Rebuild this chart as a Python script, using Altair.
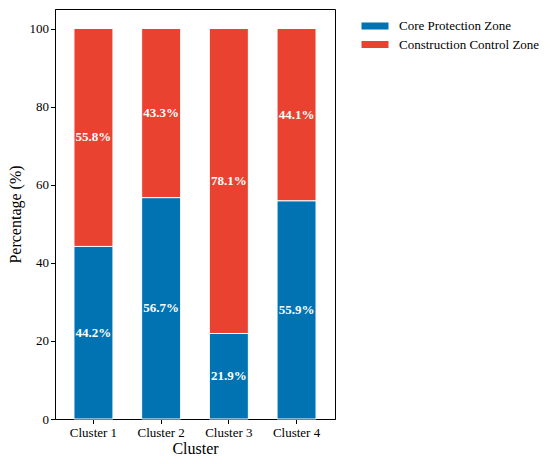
import altair as alt
import pandas as pd

clusters = ["Cluster 1", "Cluster 2", "Cluster 3", "Cluster 4"]
core = [44.2, 56.7, 21.9, 55.9]
control = [55.8, 43.3, 78.1, 44.1]
series = ["Core Protection Zone", "Construction Control Zone"]
colors = ["#0173B2", "#EA4231"]
y_ticks = [0, 20, 40, 60, 80, 100]

rows = []
for i, c in enumerate(clusters):
    rows.append({"cluster": c, "zone": series[0], "value": core[i], "ord": 0})
    rows.append({"cluster": c, "zone": series[1], "value": control[i], "ord": 1})
df = pd.DataFrame(rows)

FONT = "Liberation Serif"

base = alt.Chart(df).transform_stack(
    stack="value",
    as_=["y0", "y1"],
    groupby=["cluster"],
    sort=[alt.SortField("ord", order="ascending")],
).transform_calculate(
    mid="(datum.y0 + datum.y1) / 2",
    label="format(datum.value, '.1f') + '%'",
)

x_enc = alt.X(
    "cluster:N",
    sort=clusters,
    title="Cluster",
    scale=alt.Scale(paddingInner=0.424, paddingOuter=0.28),
    axis=alt.Axis(
        labelAngle=0,
        labelFont=FONT,
        labelFontSize=13,
        labelColor="black",
        labelPadding=3,
        tickSize=4.5,
        tickColor="black",
        domainColor="black",
        titleFont=FONT,
        titleFontSize=16,
        titleFontWeight="normal",
        titleColor="black",
        titlePadding=1,
    ),
)

y_scale = alt.Scale(domain=[0, 105], nice=False)

bars = base.mark_bar(stroke="white", strokeWidth=1).encode(
    x=x_enc,
    y=alt.Y(
        "y1:Q",
        scale=y_scale,
        title="Percentage (%)",
        axis=alt.Axis(
            values=y_ticks,
            grid=False,
            labelFont=FONT,
            labelFontSize=13,
            labelColor="black",
            labelPadding=2,
            tickSize=4.5,
            tickColor="black",
            domainColor="black",
            titleFont=FONT,
            titleFontSize=16,
            titleFontWeight="normal",
            titleColor="black",
            titlePadding=6,
        ),
    ),
    y2="y0:Q",
    color=alt.Color(
        "zone:N",
        scale=alt.Scale(domain=series, range=colors),
        sort=series,
        legend=alt.Legend(
            title=None,
            orient="none",
            legendX=313,
            legendY=10,
            padding=0,
            symbolType="M-2,-0.52L2,-0.52L2,0.52L-2,0.52Z",
            symbolSize=182,
            symbolStrokeWidth=0,
            labelOffset=17,
            rowPadding=4.5,
            labelFont=FONT,
            labelFontSize=13,
            labelColor="black",
        ),
    ),
)

texts = base.mark_text(
    font=FONT, fontSize=13, fontWeight="bold", color="white", baseline="middle"
).encode(
    x=alt.X("cluster:N", sort=clusters),
    y=alt.Y("mid:Q", scale=y_scale),
    text="label:N",
)

chart = alt.layer(bars, texts).properties(
    width=280,
    height=410,
    autosize=alt.AutoSizeParams(type="none"),
    padding={"left": 47, "top": 1, "right": 207, "bottom": 37},
).configure_view(stroke="black", strokeWidth=1)

chart.save("out.html", embed_options={"renderer": "svg", "actions": False})
